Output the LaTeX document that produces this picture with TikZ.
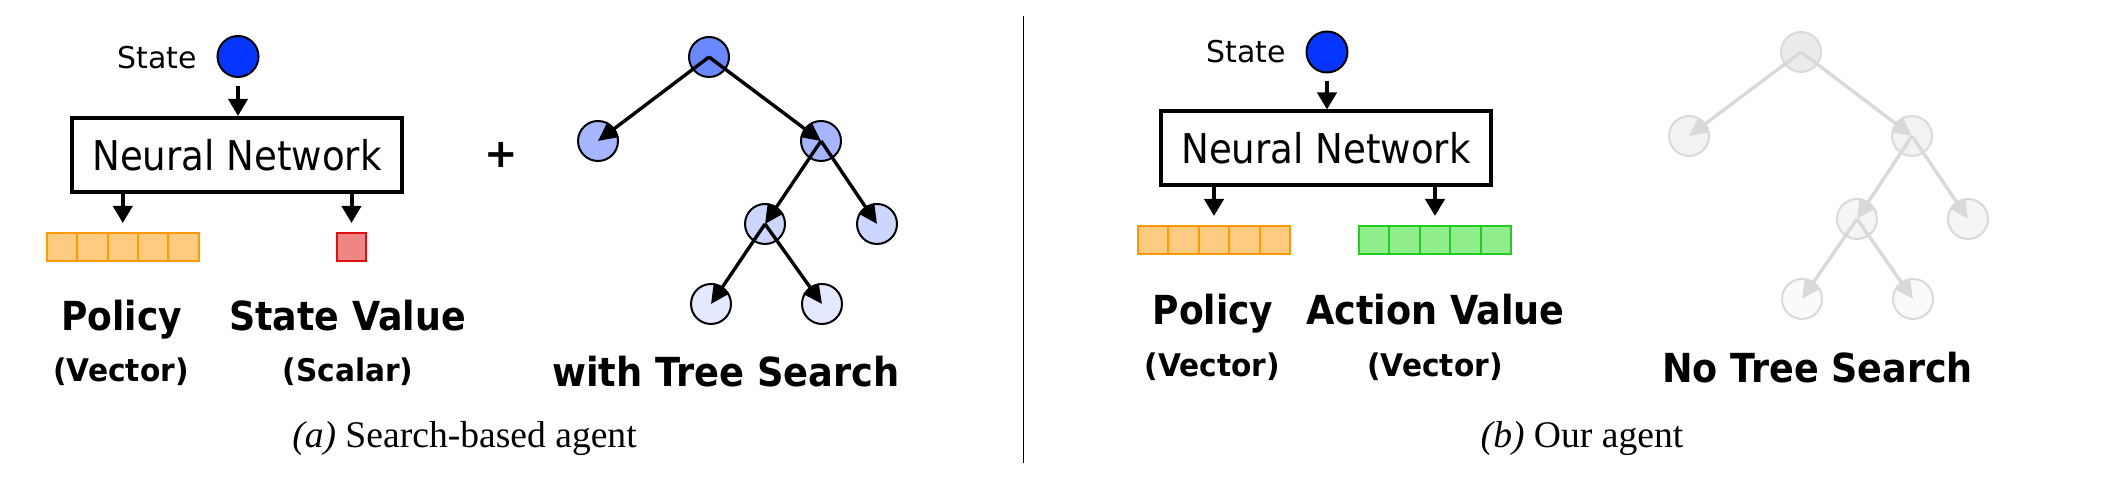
\documentclass[tikz,border=0pt]{standalone}
\usepackage{fontspec}
\setmainfont{Liberation Serif}
\newfontfamily\dv{DejaVu Sans}
\usetikzlibrary{arrows.meta}
\newcommand{\mycond}[2]{\scalebox{#1}[1]{#2}}
\definecolor{stateblue}{HTML}{0536FF}
\definecolor{tA}{HTML}{6A88FF}
\definecolor{tB}{HTML}{A5B5FF}
\definecolor{tC}{HTML}{CCD6FF}
\definecolor{tD}{HTML}{E4E9FF}
\definecolor{orangeF}{HTML}{FFCB80}
\definecolor{orangeB}{HTML}{FF9900}
\definecolor{redF}{HTML}{F08585}
\definecolor{redB}{HTML}{E01010}
\definecolor{greenF}{HTML}{90EE8A}
\definecolor{greenB}{HTML}{22CC22}
\definecolor{gline}{HTML}{D9D9D9}
\definecolor{gA}{HTML}{EBEBEB}
\definecolor{gB}{HTML}{F2F2F2}
\definecolor{gC}{HTML}{F5F5F5}
\definecolor{gD}{HTML}{FAFAFA}
\tikzset{
  statenode/.style={circle, draw=black, line width=1pt, fill=stateblue, minimum size=20.5pt, inner sep=0pt},
  statetext/.style={anchor=base, font=\dv\fontsize{15}{18}\selectfont},
  nnbox/.style={draw=black, line width=2pt, minimum width=165pt, minimum height=37pt, inner sep=0pt, font=\dv\fontsize{20.5}{24}\selectfont},
  cell/.style={line width=1pt, minimum width=15.2pt, minimum height=14pt, inner sep=0pt},
  ocell/.style={cell, draw=orangeB, fill=orangeF},
  rcell/.style={cell, draw=redB, fill=redF, minimum width=14.5pt},
  gcell/.style={cell, draw=greenB, fill=greenF},
  flowarrow/.style={line width=2pt, -{Triangle[length=8.5pt,width=9.5pt]}},
  treearrow/.style={line width=1.7pt, -{Triangle[length=9.5pt,width=9pt]}},
  tnode/.style={circle, line width=1pt, minimum size=20pt, inner sep=0pt},
  lbl/.style={anchor=base, inner sep=0pt, font=\dv\bfseries\fontsize{20}{24}\selectfont},
  sublbl/.style={anchor=base, inner sep=0pt, font=\dv\bfseries\fontsize{15.6}{18}\selectfont},
  captext/.style={anchor=base, inner sep=0pt, font=\fontsize{18.8}{22}\selectfont}
}
\begin{document}
\begin{tikzpicture}[x=0.5pt,y=-0.5pt]
\useasboundingbox (0,0) rectangle (2110,490);

% ---------------- Left panel ----------------
\node[statenode] (sL) at (238,56.5) {};
\node[statetext] (sLt) at (157,69) {State};
\node[nnbox] (nnL) at (237,155) {\mycond{0.906}{Neural Network}};
\foreach \i in {1,...,5} {
  \node[ocell] (oL\i) at ({46.8+15.2+30.4*(\i-1)},247) {};
}
\node[rcell] (vL) at (351.5,247) {};
\draw[flowarrow, shorten <=4pt] (sL.south) -- (sL.south |- nnL.north);
\draw[flowarrow, shorten >=4.5pt] (nnL.south -| oL3) -- (oL3.north);
\draw[flowarrow, shorten >=4.5pt] (nnL.south -| vL) -- (vL.north);

\node[lbl] (polL) at (121.5,331) {\mycond{0.9}{Policy}};
\node[lbl] (svL) at (347.5,331) {\mycond{0.91}{State Value}};
\node[sublbl] (vecL) at (121,382) {\mycond{0.95}{(Vector)}};
\node[sublbl] (scaL) at (348,382) {\mycond{0.95}{(Scalar)}};

\node[anchor=center, font=\dv\bfseries\fontsize{20}{22}\selectfont] (plus) at (501,155) {+};

% tree (left)
\node[tnode, draw=black, fill=tA] (Lr) at (709,57) {};
\node[tnode, draw=black, fill=tB] (La) at (598,141) {};
\node[tnode, draw=black, fill=tB] (Lb) at (821,141) {};
\node[tnode, draw=black, fill=tC] (Lc) at (765,224) {};
\node[tnode, draw=black, fill=tC] (Ld) at (877,224) {};
\node[tnode, draw=black, fill=tD] (Le) at (711,304) {};
\node[tnode, draw=black, fill=tD] (Lf) at (822,304) {};
\draw[treearrow] (Lr.center) -- (La.center);
\draw[treearrow] (Lr.center) -- (Lb.center);
\draw[treearrow] (Lb.center) -- (Lc.center);
\draw[treearrow] (Lb.center) -- (Ld.center);
\draw[treearrow] (Lc.center) -- (Le.center);
\draw[treearrow] (Lc.center) -- (Lf.center);
\node[lbl] (wts) at (726,387) {\mycond{0.92}{with Tree Search}};

\node[captext] (capL) at (464.5,448) {\textit{(a)} Search-based agent};

% divider
\coordinate (dtop) at (1023.5,16);
\coordinate (dbot) at (1023.5,463);
\draw[line width=0.6pt] (dtop) -- (dbot);

% ---------------- Right panel ----------------
\node[statenode] (sR) at (1327,52) {};
\node[statetext] (sRt) at (1246,63) {State};
\node[nnbox] (nnR) at (1326,148.5) {\mycond{0.906}{Neural Network}};
\foreach \i in {1,...,5} {
  \node[ocell] (oR\i) at ({1138+15.2+30.4*(\i-1)},240) {};
  \node[gcell] (gR\i) at ({1359+15.2+30.4*(\i-1)},240) {};
}
\draw[flowarrow, shorten <=4pt] (sR.south) -- (sR.south |- nnR.north);
\draw[flowarrow, shorten >=4.5pt] (nnR.south -| oR3) -- (oR3.north);
\draw[flowarrow, shorten >=4.5pt] (nnR.south -| gR3) -- (gR3.north);

\node[lbl] (polR) at (1213,325) {\mycond{0.9}{Policy}};
\node[lbl] (avR) at (1435.5,325) {\mycond{0.915}{Action Value}};
\node[sublbl] (vecR1) at (1212.5,377) {\mycond{0.95}{(Vector)}};
\node[sublbl] (vecR2) at (1435,377) {\mycond{0.95}{(Vector)}};

% tree (right, faded)
\node[tnode, draw=gline, fill=gA] (Rr) at (1801,52) {};
\node[tnode, draw=gline, fill=gB] (Ra) at (1689,136) {};
\node[tnode, draw=gline, fill=gB] (Rb) at (1912,136) {};
\node[tnode, draw=gline, fill=gC] (Rc) at (1857,219) {};
\node[tnode, draw=gline, fill=gC] (Rd) at (1968,219) {};
\node[tnode, draw=gline, fill=gD] (Re) at (1802,299) {};
\node[tnode, draw=gline, fill=gD] (Rf) at (1913,299) {};
\draw[treearrow, gline] (Rr.center) -- (Ra.center);
\draw[treearrow, gline] (Rr.center) -- (Rb.center);
\draw[treearrow, gline] (Rb.center) -- (Rc.center);
\draw[treearrow, gline] (Rb.center) -- (Rd.center);
\draw[treearrow, gline] (Rc.center) -- (Re.center);
\draw[treearrow, gline] (Rc.center) -- (Rf.center);
\node[lbl] (nts) at (1817.5,383) {\mycond{0.913}{No Tree Search}};

\node[captext] (capR) at (1582,448) {\textit{(b)} Our agent};
\end{tikzpicture}
\end{document}
